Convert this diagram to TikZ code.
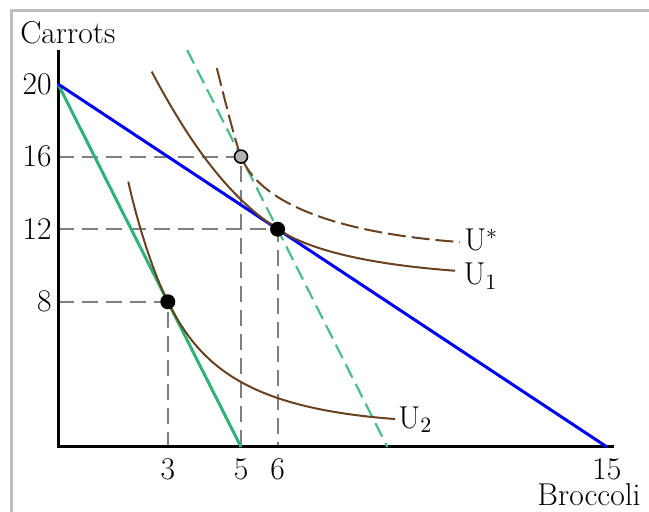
\documentclass[tikz,border=0pt]{standalone}
\usepackage{amsmath,amssymb}
\usepackage{tikz}
\usetikzlibrary{arrows.meta,calc,positioning}

\definecolor{budgetblue}{RGB}{0,0,250}
\definecolor{budgetgreen}{RGB}{46,178,120}
\definecolor{icbrown}{RGB}{105,66,34}
\definecolor{guidegray}{RGB}{128,128,128}
\definecolor{framegray}{RGB}{190,190,190}

\tikzset{
  guide/.style={guidegray,line width=1pt,dash pattern=on 8pt off 4pt},
  budget/.style={line width=1.5pt},
  icurve/.style={icbrown,line width=1pt},
  optdot/.style={circle,fill=black,inner sep=0pt,minimum size=7.5pt},
  ticklabel/.style={font=\fontsize{15.8}{19}\selectfont,inner sep=0pt},
}

\begin{document}
\begin{tikzpicture}[x=18.3pt,y=9.075pt,>=Stealth]
  \useasboundingbox (-1.585,-3.581) rectangle (16.148,24.628);
  \draw[framegray,line width=1.5pt] (-1.27,-4) -- (-1.27,24.05) -- (16.5,24.05);

  % guide lines
  \foreach \bx/\cy in {3/8,5/16,6/12} {
    \draw[guide] (0,\cy) -- (\bx,\cy) -- (\bx,0);
  }

  % axes
  \draw[line width=1.5pt] (0,21.87) -- (0,0) -- (15.19,0);
  \node[ticklabel,anchor=west] (ylab) at (-1.04,22.81) {Carrots};
  \node[ticklabel,anchor=north east] (xlab) at (15.93,-2.0) {Broccoli};
  \foreach \cy in {8,12,16,20} {
    \node[ticklabel,anchor=east] (y\cy) at (-0.164,\cy) {\cy};
  }
  \foreach \bx in {3,5,6,15} {
    \node[ticklabel,anchor=north] (x\bx) at (\bx,-0.6) {\bx};
  }

  % budget lines
  \draw[budget,budgetgreen] (0,20) -- (5,0);
  \draw[budgetgreen!85!white,line width=1.1pt,dash pattern=on 7.5pt off 3.5pt]
    (3.53,21.87) -- (9,0);
  \draw[budget,budgetblue] (0,20) -- (15,0);

  % indifference curves
  \draw[icurve] (1.92,14.62) .. controls (2.22,11.92) and (2.65,9.4) .. (3,8)
    .. controls (3.9,4.4) and (5.21,2.14) .. (9.21,1.54) coordinate (utwo);
  \draw[icurve] (2.56,20.68) .. controls (3.76,16.12) and (4.8,13.6) .. (6,12)
    .. controls (7,10.667) and (8.85,10.01) .. (10.85,9.71) coordinate (uone);
  \draw[icurve,dash pattern=on 9pt off 3pt]
    (4.34,20.87) .. controls (4.54,19.27) and (4.85,16.75) .. (5,16)
    .. controls (5.5,13.5) and (7.48,11.815) .. (10.98,11.29) coordinate (ustar);

  \node[ticklabel,anchor=base west] (lblU2) at ([xshift=1.5pt,yshift=-4.5pt]utwo) {U$_2$};
  \node[ticklabel,anchor=base west] (lblU1) at ([xshift=4pt,yshift=-7pt]uone) {U$_1$};
  \node[ticklabel,anchor=base west] (lblUs) at ([xshift=2pt,yshift=-4pt]ustar) {U$^*$};

  % bundles
  \node[optdot] (optA) at (3,8) {};
  \node[optdot] (optB) at (6,12) {};
  \node[circle,draw=black,fill=black!30,line width=0.8pt,inner sep=0pt,
    minimum size=6.5pt] (optC) at (5,16) {};
\end{tikzpicture}
\end{document}
